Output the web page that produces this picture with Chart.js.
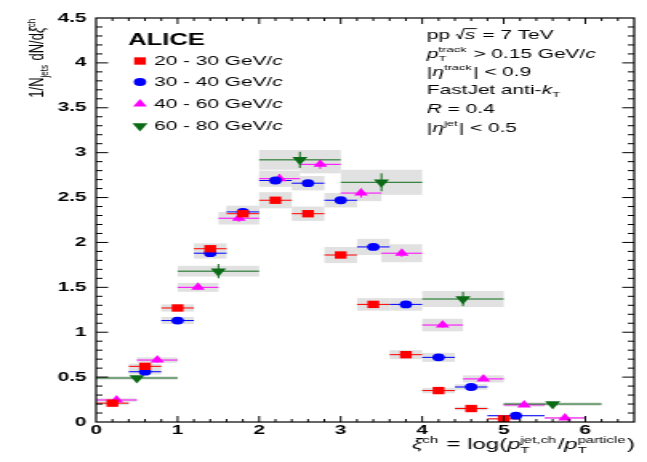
<!DOCTYPE html>
<html>
<head>
<meta charset="utf-8">
<script src="https://cdn.jsdelivr.net/npm/chart.js@4/dist/chart.umd.min.js"></script>
<style>
  html, body { margin: 0; padding: 0; background: #fff; }
</style>
</head>
<body>
<!-- the plot is drawn narrow and widened by css -->
<canvas id="xiChart" width="404" height="462" style="width:647px;height:462px;display:block"></canvas>
<script>
var FAM = '"Liberation Sans", Arial, Helvetica, sans-serif';

// jet pT classes
var ptLabels = ['20 - 30 GeV/', '30 - 40 GeV/', '40 - 60 GeV/', '60 - 80 GeV/'];

// 20 - 30 GeV/c
var xi2030   = [0.2, 0.6, 1.0, 1.4, 1.8, 2.2, 2.6, 3.0, 3.4, 3.8, 4.2, 4.6, 5.0];
var bin2030  = [0.2, 0.2, 0.2, 0.2, 0.2, 0.2, 0.2, 0.2, 0.2, 0.2, 0.2, 0.2, 0.2];
var val2030  = [0.21, 0.62, 1.27, 1.93, 2.32, 2.47, 2.32, 1.86, 1.31, 0.75, 0.35, 0.15, 0.035];
var stat2030 = [0.01, 0.01, 0.02, 0.02, 0.02, 0.02, 0.02, 0.02, 0.02, 0.01, 0.01, 0.01, 0.005];
var sys2030  = [0.02, 0.03, 0.04, 0.06, 0.07, 0.09, 0.08, 0.09, 0.07, 0.05, 0.03, 0.02, 0.01];

// 30 - 40 GeV/c
var xi3040   = [0.6, 1.0, 1.4, 1.8, 2.2, 2.6, 3.0, 3.4, 3.8, 4.2, 4.6, 5.15];
var bin3040  = [0.2, 0.2, 0.2, 0.2, 0.2, 0.2, 0.2, 0.2, 0.2, 0.2, 0.2, 0.35];
var val3040  = [0.56, 1.13, 1.88, 2.34, 2.69, 2.66, 2.47, 1.95, 1.31, 0.72, 0.39, 0.07];
var stat3040 = [0.01, 0.02, 0.02, 0.03, 0.03, 0.03, 0.03, 0.02, 0.02, 0.02, 0.01, 0.01];
var sys3040  = [0.03, 0.04, 0.06, 0.07, 0.06, 0.08, 0.08, 0.09, 0.07, 0.05, 0.03, 0.01];

// 40 - 60 GeV/c
var xi4060   = [0.25, 0.75, 1.25, 1.75, 2.25, 2.75, 3.25, 3.75, 4.25, 4.75, 5.25, 5.75];
var bin4060  = [0.25, 0.25, 0.25, 0.25, 0.25, 0.25, 0.25, 0.25, 0.25, 0.25, 0.25, 0.25];
var val4060  = [0.245, 0.69, 1.50, 2.27, 2.71, 2.87, 2.55, 1.88, 1.08, 0.48, 0.19, 0.045];
var stat4060 = [0.02, 0.03, 0.03, 0.04, 0.05, 0.05, 0.05, 0.04, 0.03, 0.02, 0.01, 0.01];
var sys4060  = [0.02, 0.03, 0.05, 0.07, 0.09, 0.10, 0.09, 0.10, 0.07, 0.04, 0.02, 0.01];

// 60 - 80 GeV/c
var xi6080   = [0.5, 1.5, 2.5, 3.5, 4.5, 5.6];
var bin6080  = [0.5, 0.5, 0.5, 0.5, 0.5, 0.6];
var val6080  = [0.49, 1.68, 2.92, 2.67, 1.37, 0.20];
var stat6080 = [0.02, 0.08, 0.09, 0.10, 0.08, 0.02];
var sys6080  = [0.02, 0.06, 0.11, 0.14, 0.09, 0.02];

var series = [
  { xi: xi2030, hw: bin2030, val: val2030, stat: stat2030, sys: sys2030, color: '#ff0000', style: 'rect',     radius: 5.2, rot: 0 },
  { xi: xi3040, hw: bin3040, val: val3040, stat: stat3040, sys: sys3040, color: '#0000ff', style: 'circle',   radius: 3.9, rot: 0 },
  { xi: xi4060, hw: bin4060, val: val4060, stat: stat4060, sys: sys4060, color: '#ff00ff', style: 'triangle', radius: 5,   rot: 0 },
  { xi: xi6080, hw: bin6080, val: val6080, stat: stat6080, sys: sys6080, color: '#0b6a16', style: 'triangle', radius: 5.5, rot: 180 }
];

var SS = 0.62; // index size

function fnt(size, it, bold) {
  return (it ? 'italic ' : '') + (bold ? 'bold ' : '') + size + 'px ' + FAM;
}

// text pieces: plain strings, {t, it}, {sub, sup}, {sqrt}
function partWidth(ctx, p, size) {
  if (typeof p === 'string') { ctx.font = fnt(size); return ctx.measureText(p).width; }
  if (p.t !== undefined) { ctx.font = fnt(size, p.it); return ctx.measureText(p.t).width; }
  if (p.sqrt !== undefined) { ctx.font = fnt(size, true); return size * 0.42 + ctx.measureText(p.sqrt).width + size * 0.08; }
  ctx.font = fnt(size * SS);
  var a = p.sup ? ctx.measureText(p.sup).width : 0;
  var b = p.sub ? ctx.measureText(p.sub).width : 0;
  return Math.max(a, b) + size * 0.06;
}

function drawRich(ctx, parts, x, y, size, align) {
  var total = 0;
  parts.forEach(function (p) { total += partWidth(ctx, p, size); });
  var cx = align === 'right' ? x - total : x;
  ctx.textAlign = 'left';
  ctx.textBaseline = 'alphabetic';
  parts.forEach(function (p) {
    var w = partWidth(ctx, p, size);
    if (typeof p === 'string') {
      ctx.font = fnt(size); ctx.fillText(p, cx, y);
    } else if (p.t !== undefined) {
      ctx.font = fnt(size, p.it); ctx.fillText(p.t, cx, y);
    } else if (p.sqrt !== undefined) {
      ctx.font = fnt(size, true);
      ctx.fillText(p.sqrt, cx + size * 0.42, y);
      var top = y - size * 0.8;
      ctx.beginPath();
      ctx.moveTo(cx, y - size * 0.3);
      ctx.lineTo(cx + size * 0.08, y - size * 0.36);
      ctx.lineTo(cx + size * 0.2, y);
      ctx.lineTo(cx + size * 0.38, top);
      ctx.lineTo(cx + w, top);
      ctx.lineWidth = size * 0.07;
      ctx.strokeStyle = ctx.fillStyle;
      ctx.stroke();
    } else {
      ctx.font = fnt(size * SS);
      if (p.sup) ctx.fillText(p.sup, cx, y - size * 0.42);
      if (p.sub) ctx.fillText(p.sub, cx, y + size * 0.26);
    }
    cx += w;
  });
}

function line(ctx, x1, y1, x2, y2) {
  ctx.beginPath(); ctx.moveTo(x1, y1); ctx.lineTo(x2, y2); ctx.stroke();
}

// systematic boxes and error bars under the markers
var errorBars = {
  id: 'errorBars',
  beforeDatasetsDraw: function (chart) {
    var ctx = chart.ctx, xs = chart.scales.x, ys = chart.scales.y;
    ctx.save();
    ctx.fillStyle = '#e1e1e1';
    series.forEach(function (s) {
      s.xi.forEach(function (x, i) {
        var l = xs.getPixelForValue(x - s.hw[i]), r = xs.getPixelForValue(x + s.hw[i]);
        var t = ys.getPixelForValue(s.val[i] + s.sys[i]), b = ys.getPixelForValue(s.val[i] - s.sys[i]);
        ctx.fillRect(l, t, r - l, b - t);
      });
    });
    ctx.lineWidth = 1;
    series.forEach(function (s) {
      ctx.strokeStyle = s.color;
      s.xi.forEach(function (x, i) {
        var py = ys.getPixelForValue(s.val[i]), px = xs.getPixelForValue(x);
        line(ctx, xs.getPixelForValue(x - s.hw[i]), py, xs.getPixelForValue(x + s.hw[i]), py);
        line(ctx, px, ys.getPixelForValue(s.val[i] + s.stat[i]), px, ys.getPixelForValue(s.val[i] - s.stat[i]));
      });
    });
    ctx.restore();
  },

  afterDraw: function (chart) {
    var ctx = chart.ctx, xs = chart.scales.x, ys = chart.scales.y, ca = chart.chartArea;
    ctx.save();

    // frame with inward ticks on all sides
    ctx.strokeStyle = '#000';
    ctx.lineWidth = 1.2;
    ctx.strokeRect(ca.left, ca.top, ca.right - ca.left, ca.bottom - ca.top);
    ctx.lineWidth = 1;
    var k, len, p;
    for (k = 1; k < 33; k++) {
      p = xs.getPixelForValue(k * 0.2);
      len = k % 5 === 0 ? 6 : 3;
      line(ctx, p, ca.bottom, p, ca.bottom - len);
      line(ctx, p, ca.top, p, ca.top + len);
    }
    for (k = 1; k < 45; k++) {
      p = ys.getPixelForValue(k * 0.1);
      len = k % 5 === 0 ? 7.5 : 4;
      line(ctx, ca.left, p, ca.left + len, p);
      line(ctx, ca.right, p, ca.right - len, p);
    }

    ctx.fillStyle = '#000';

    // axis titles
    drawRich(ctx, [{ t: 'ξ', it: 1 }, { sup: 'ch' }, ' = log(', { t: 'p', it: 1 }, { sub: 'T', sup: 'jet,ch' },
      '/', { t: 'p', it: 1 }, { sub: 'T', sup: 'particle' }, ')'], 396.5, 449, 15, 'right');
    ctx.save();
    ctx.translate(27, 18);
    ctx.rotate(-Math.PI / 2);
    drawRich(ctx, ['1/N', { sub: 'jets' }, ' dN/d', { t: 'ξ', it: 1 }, { sup: 'ch' }], 0, 0, 13, 'right');
    ctx.restore();

    // legend
    ctx.font = fnt(16, false, true);
    ctx.textAlign = 'left';
    ctx.fillText('ALICE', 80, 45);
    var legY = [61, 82, 104, 126];
    series.forEach(function (s, i) {
      ctx.fillStyle = s.color;
      Chart.helpers.drawPoint(ctx, { pointStyle: s.style, radius: s.radius, rotation: s.rot, borderWidth: 0 }, 87.4, legY[i]);
      ctx.fillStyle = '#000';
      drawRich(ctx, [ptLabels[i], { t: 'c', it: 1 }], 96.2, legY[i] + 4.3, 13);
    });

    // collision and jet selection
    var tx = 266.6;
    drawRich(ctx, ['pp ', { sqrt: 's' }, ' = 7 TeV'], tx, 39, 13);
    drawRich(ctx, [{ t: 'p', it: 1 }, { sub: 'T', sup: 'track' }, ' > 0.15 GeV/', { t: 'c', it: 1 }], tx, 57.5, 13);
    drawRich(ctx, ['|', { t: 'η', it: 1 }, { sup: 'track' }, '| < 0.9'], tx, 75.5, 13);
    drawRich(ctx, ['FastJet anti-', { t: 'k', it: 1 }, { sub: 'T' }], tx, 94, 13);
    drawRich(ctx, [{ t: 'R', it: 1 }, ' = 0.4'], tx, 113, 13);
    drawRich(ctx, ['|', { t: 'η', it: 1 }, { sup: 'jet' }, '| < 0.5'], tx, 131.5, 13);

    ctx.restore();
  }
};

var tickFont = { family: FAM, size: 13, weight: 'bold' };
function plainTick(v) { return String(v); }

new Chart(document.getElementById('xiChart'), {
  type: 'scatter',
  data: {
    datasets: series.map(function (s, i) {
      return {
        label: ptLabels[i] + 'c',
        data: s.xi.map(function (x, j) { return { x: x, y: s.val[j] }; }),
        pointStyle: s.style,
        pointRadius: s.radius,
        pointRotation: s.rot,
        pointBorderWidth: 0,
        backgroundColor: s.color,
        borderColor: s.color,
        showLine: false
      };
    })
  },
  options: {
    responsive: false,
    animation: false,
    devicePixelRatio: 1,
    events: [],
    layout: { padding: { left: 0, right: 8, top: 18, bottom: 0 }, autoPadding: false },
    plugins: { legend: { display: false }, tooltip: { enabled: false } },
    scales: {
      x: {
        type: 'linear', min: 0, max: 6.6,
        grid: { display: false, drawTicks: false },
        border: { display: false },
        ticks: { stepSize: 1, includeBounds: false, autoSkip: false, maxRotation: 0, padding: 1, color: '#000', font: tickFont, callback: plainTick },
        afterFit: function (s) { s.height = 40; }
      },
      y: {
        type: 'linear', min: 0, max: 4.5,
        grid: { display: false, drawTicks: false },
        border: { display: false },
        ticks: { stepSize: 0.5, includeBounds: false, autoSkip: false, padding: 6, color: '#000', font: tickFont, callback: plainTick },
        afterFit: function (s) { s.width = 60; }
      }
    }
  },
  plugins: [errorBars]
});
</script>
</body>
</html>
